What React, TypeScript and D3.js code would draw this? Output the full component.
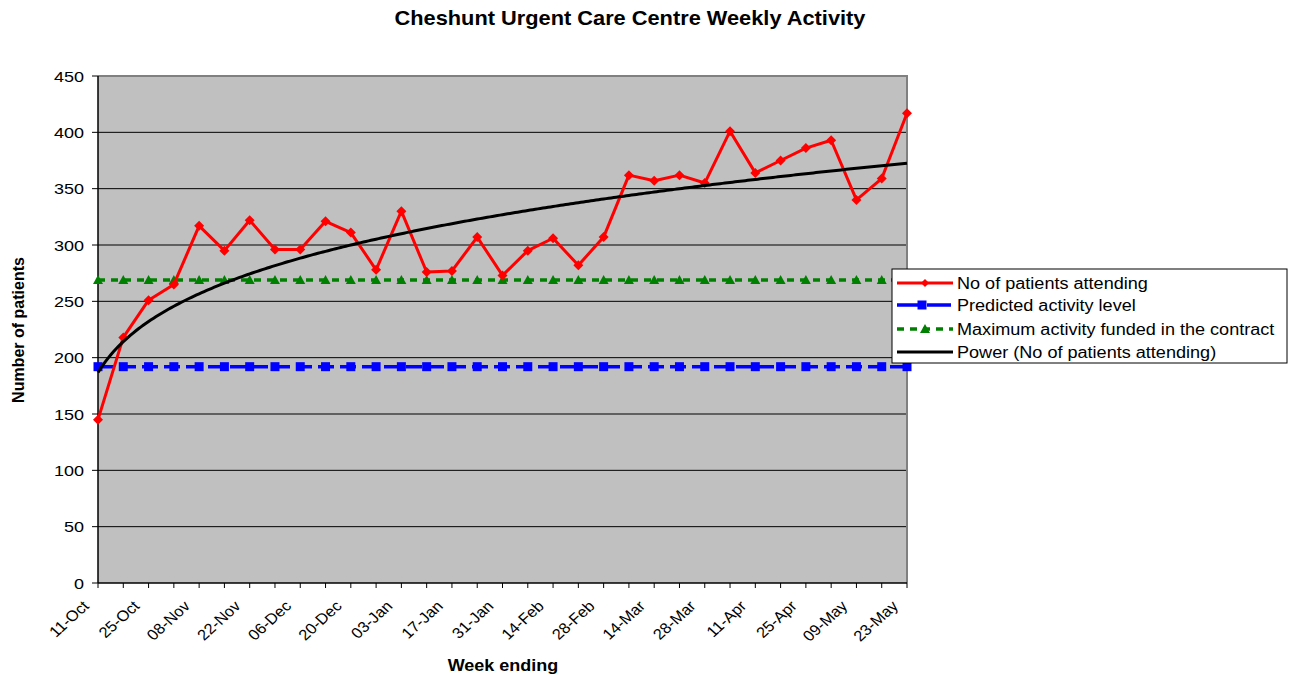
import React from 'react';
import * as d3 from 'd3';

// week-ending dates (one per weekly point)
const weeks = [
  '11-Oct', '18-Oct', '25-Oct', '01-Nov', '08-Nov', '15-Nov', '22-Nov', '29-Nov',
  '06-Dec', '13-Dec', '20-Dec', '27-Dec', '03-Jan', '10-Jan', '17-Jan', '24-Jan',
  '31-Jan', '07-Feb', '14-Feb', '21-Feb', '28-Feb', '07-Mar', '14-Mar', '21-Mar',
  '28-Mar', '04-Apr', '11-Apr', '18-Apr', '25-Apr', '02-May', '09-May', '16-May', '23-May',
];

const attending = [
  145, 218, 251, 265, 317, 295, 322, 296, 296, 321, 311, 278, 330, 276, 277, 307,
  273, 295, 306, 282, 307, 362, 357, 362, 355, 401, 364, 375, 386, 393, 340, 359, 417,
];

const predictedLevel = 192;
const maxFunded = 269;

const yTicks = [0, 50, 100, 150, 200, 250, 300, 350, 400, 450];

const seriesNames = [
  'No of patients attending',
  'Predicted activity level',
  'Maximum activity funded in the contract',
  'Power (No of patients attending)',
];

const FONT = '"Liberation Sans", Arial, sans-serif';

// Excel-style power trendline: least squares on ln(y) = ln(a) + b ln(x)
function powerFit(values: number[]) {
  const lx = values.map((_, i) => Math.log(i + 1));
  const ly = values.map(v => Math.log(v));
  const mx = d3.mean(lx)!;
  const my = d3.mean(ly)!;
  const b = d3.sum(lx, (x, i) => (x - mx) * (ly[i] - my)) / d3.sum(lx, x => (x - mx) ** 2);
  const a = Math.exp(my - b * mx);
  return (x: number) => a * Math.pow(x, b);
}

const Diamond = ({ x, y, s = 5, fill }: { x: number; y: number; s?: number; fill: string }) => (
  <path d={`M${x},${y - s}L${x + s},${y}L${x},${y + s}L${x - s},${y}Z`} fill={fill} />
);
const Square = ({ x, y, s = 4.5, fill }: { x: number; y: number; s?: number; fill: string }) => (
  <rect x={x - s} y={y - s} width={s * 2} height={s * 2} fill={fill} />
);
const Triangle = ({ x, y, s = 5, fill }: { x: number; y: number; s?: number; fill: string }) => (
  <path d={`M${x},${y - s}L${x + s},${y + s * 0.8}L${x - s},${y + s * 0.8}Z`} fill={fill} />
);

// the original text is a little wider than Liberation Sans, so stretch it horizontally
const Label = ({ x, y, sx = 1, rot = 0, anchor = 'start', size, bold, children }: any) => (
  <text
    transform={`translate(${x},${y}) scale(${sx},1)${rot ? ` rotate(${rot})` : ''}`}
    textAnchor={anchor}
    fontSize={size}
    fontWeight={bold ? 'bold' : 'normal'}
  >
    {children}
  </text>
);

export default function App() {
  const width = 1289;
  const height = 675;
  const left = 98, right = 907, top = 76, bottom = 583;

  const x = d3.scalePoint<string>().domain(weeks).range([left, right]);
  const y = d3.scaleLinear().domain([0, 450]).range([bottom, top]);

  const trend = powerFit(attending);
  const trendPts = d3.range(1, weeks.length + 0.001, 0.1).map(t => [
    left + ((t - 1) / (weeks.length - 1)) * (right - left),
    y(trend(t)),
  ] as [number, number]);

  const redLine = d3.line<number>().x((_, i) => x(weeks[i])!).y(d => y(d))(attending)!;
  const curve = d3.line()(trendPts)!;

  const legX = 892, legY = 269, legW = 395, legH = 94;
  const rows = [283, 305, 329, 352];

  return (
    <div style={{ position: 'absolute', left: 0, top: 0 }}>
      <svg width={width} height={height} style={{ display: 'block', fontFamily: FONT }}>
        <rect width={width} height={height} fill="#fff" />
        <Label x={630} y={25} sx={1.09} anchor="middle" size={20} bold>
          Cheshunt Urgent Care Centre Weekly Activity
        </Label>

        {/* plot area */}
        <rect x={left} y={top} width={right - left} height={bottom - top} fill="#c0c0c0" />
        {yTicks.slice(1, -1).map(t => (
          <line key={t} x1={left} x2={right} y1={y(t)} y2={y(t)} stroke="#000" strokeWidth={1} />
        ))}
        <path d={`M${left},${top}H${right}V${bottom}`} fill="none" stroke="#808080" strokeWidth={2} />

        {/* y axis */}
        <line x1={left} x2={left} y1={top} y2={bottom} stroke="#000" strokeWidth={1.5} />
        {yTicks.map(t => (
          <g key={t}>
            <line x1={left - 6} x2={left} y1={y(t)} y2={y(t)} stroke="#000" />
            <Label x={84} y={y(t) + 5.5} sx={1.2} anchor="end" size={15}>{t}</Label>
          </g>
        ))}

        {/* x axis */}
        <line x1={left} x2={right} y1={bottom} y2={bottom} stroke="#000" strokeWidth={1.5} />
        {weeks.map((w, i) => (
          <g key={w}>
            <line x1={x(w)} x2={x(w)} y1={bottom} y2={bottom + 5} stroke="#000" />
            {i % 2 === 0 && (
              <Label x={x(w)! - 8} y={bottom + 24} sx={1.1} rot={-45} anchor="end" size={15}>
                {w}
              </Label>
            )}
          </g>
        ))}

        {/* predicted level */}
        <line x1={left} x2={right} y1={y(predictedLevel)} y2={y(predictedLevel)}
          stroke="#0000ff" strokeWidth={3.5} strokeDasharray="16 6" />
        {weeks.map(w => <Square key={w} x={x(w)!} y={y(predictedLevel)} fill="#0000ff" />)}

        {/* maximum funded */}
        <line x1={left} x2={right} y1={y(maxFunded)} y2={y(maxFunded)}
          stroke="#008000" strokeWidth={3.5} strokeDasharray="7 6" />
        {weeks.map(w => <Triangle key={w} x={x(w)!} y={y(maxFunded)} fill="#008000" />)}

        {/* attendances */}
        <path d={redLine} fill="none" stroke="#ff0000" strokeWidth={3} strokeLinejoin="round" />
        {attending.map((v, i) => <Diamond key={i} x={x(weeks[i])!} y={y(v)} fill="#ff0000" />)}

        {/* power trendline */}
        <path d={curve} fill="none" stroke="#000" strokeWidth={3} />

        {/* axis titles */}
        <Label x={503} y={671} sx={1.06} anchor="middle" size={17} bold>Week ending</Label>
        <Label x={24} y={330} rot={-90} anchor="middle" size={16} bold>Number of patients</Label>

        {/* legend */}
        <rect x={legX} y={legY} width={legW} height={legH} fill="#fff" stroke="#000" strokeWidth={1} />
        <line x1={897} x2={953} y1={rows[0]} y2={rows[0]} stroke="#ff0000" strokeWidth={3} />
        <Diamond x={925} y={rows[0]} s={4} fill="#ff0000" />
        <line x1={897} x2={953} y1={rows[1]} y2={rows[1]} stroke="#0000ff" strokeWidth={3.5} strokeDasharray="24 6" />
        <Square x={922} y={rows[1]} s={4.5} fill="#0000ff" />
        <line x1={897} x2={953} y1={rows[2]} y2={rows[2]} stroke="#008000" strokeWidth={3.5} strokeDasharray="7 6" />
        <Triangle x={925} y={rows[2]} s={5} fill="#008000" />
        <line x1={897} x2={953} y1={rows[3]} y2={rows[3]} stroke="#000" strokeWidth={3} />
        {seriesNames.map((n, i) => (
          <Label key={n} x={957} y={rows[i] + 6} sx={1.13} size={16}>{n}</Label>
        ))}
      </svg>
    </div>
  );
}
